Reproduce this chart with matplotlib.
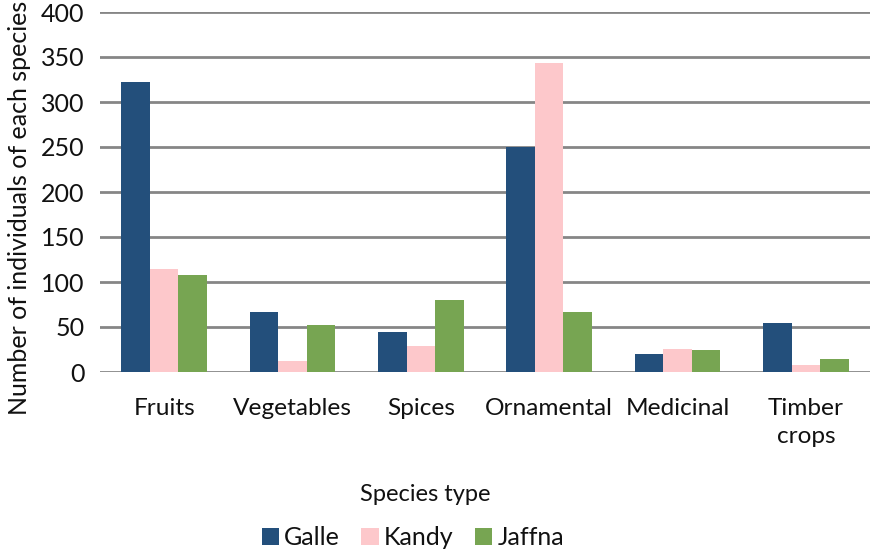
import numpy as np
import matplotlib.pyplot as plt

categories = ['Fruits', 'Vegetables', 'Spices', 'Ornamental', 'Medicinal', 'Timber\ncrops']
galle = [322, 67, 45, 250, 20, 55]
kandy = [114, 12, 29, 343, 26, 8]
jaffna = [108, 52, 80, 67, 25, 15]

plt.rcParams['font.family'] = ['Lato', 'DejaVu Sans']

fig = plt.figure(figsize=(8.73, 5.55), dpi=100)
ax = fig.add_axes([100 / 873, 1 - 372 / 555, 770 / 873, 360 / 555])

x = np.arange(len(categories))
width = 0.222
ax.bar(x - width, galle, width, color='#234f7b', label='Galle', zorder=3)
ax.bar(x, kandy, width, color='#fdc8cb', label='Kandy', zorder=3)
ax.bar(x + width, jaffna, width, color='#77a552', label='Jaffna', zorder=3)

ax.set_xlim(-0.5, len(categories) - 0.5)
ax.set_ylim(0, 400)
ax.set_yticks(range(0, 401, 50))
ax.yaxis.grid(True, color='#868686', linewidth=2)
ax.set_axisbelow(True)
for s in ax.spines.values():
    s.set_visible(False)
ax.tick_params(axis='both', length=0, labelsize=18, colors='#111111')
ax.tick_params(axis='y', pad=11)
ax.tick_params(axis='x', pad=19)
ax.set_xticks(x)
ax.set_xticklabels(categories, fontsize=17.6, linespacing=1.4, va='top')

ax.set_xlabel('Species type', fontsize=17, color='#111111')
ax.xaxis.set_label_coords(0.423, -0.31)
ax.set_ylabel('Number of individuals of each species', fontsize=18, color='#111111')
ax.yaxis.set_label_coords(-0.09, 0.456)

leg = fig.legend(loc='center', bbox_to_anchor=(0.473, 0.031), ncol=3, frameon=False,
                 fontsize=18, handlelength=0.7, handleheight=0.7, handletextpad=0.2,
                 columnspacing=0.85, borderpad=0)
for t in leg.get_texts():
    t.set_color('#111111')

fig.savefig('out.png', dpi=100)
